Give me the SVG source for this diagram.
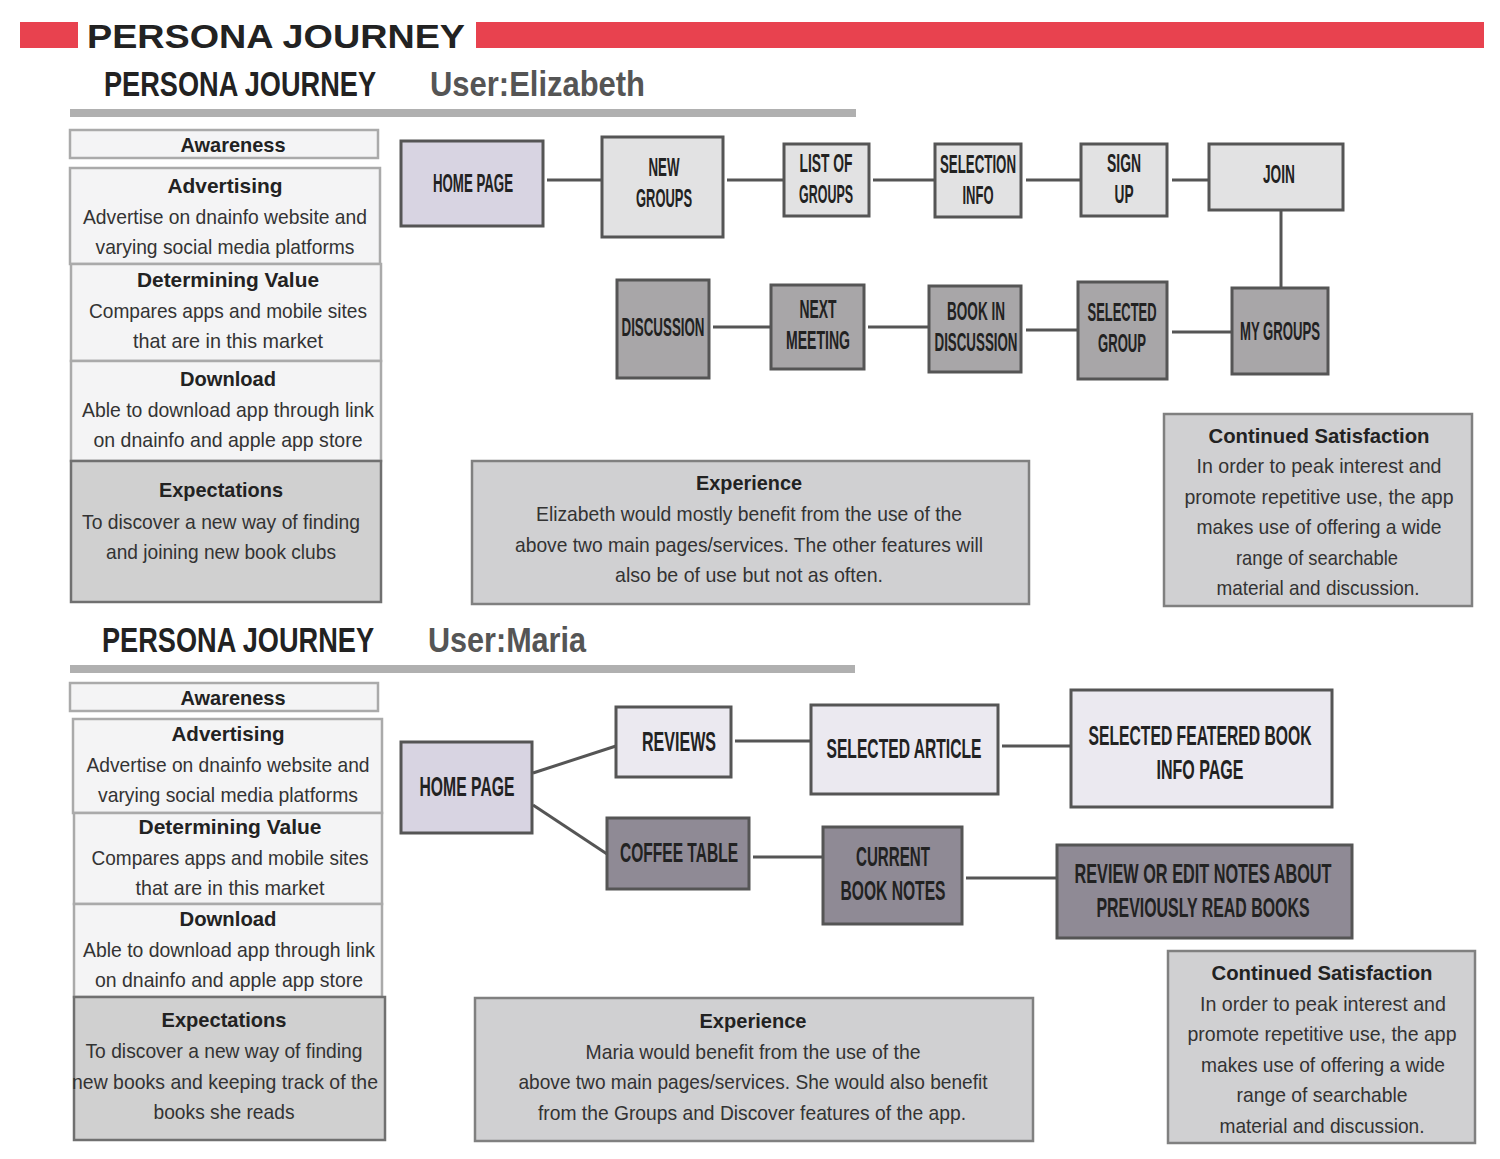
<svg xmlns="http://www.w3.org/2000/svg" width="1500" height="1159" viewBox="0 0 1500 1159">
<style>
text{font-family:"Liberation Sans",Arial,sans-serif;text-anchor:middle}
.nl{font-weight:bold;font-size:25px;fill:#222}
.nl2{font-weight:bold;font-size:28px;fill:#222}
.nl3{font-weight:bold;font-size:17px;fill:#222}
.bt{font-weight:bold;font-size:21px;fill:#222}
.bd{font-size:21px;fill:#333}
.st{font-weight:bold;font-size:29px;text-anchor:start}
.box{stroke:#555;stroke-width:3}
.lt{fill:#f4f4f5;stroke:#aaa;stroke-width:2.5}
.ex{fill:#d0d0d2;stroke:#808080;stroke-width:2.5}
.c{stroke:#555;stroke-width:3;fill:none}
</style>
<rect width="1500" height="1159" fill="#fff"/>
<g id="header">
<rect x="20" y="22" width="58" height="26" fill="#e8424f"/>
<rect x="476" y="22" width="1008" height="26" fill="#e8424f"/>
<text x="87" y="48" style="text-anchor:start;font-weight:bold;font-size:33px;fill:#222" textLength="378" lengthAdjust="spacingAndGlyphs">PERSONA JOURNEY</text>
</g>
<g id="title1">
<text class="st" transform="translate(104,96) scale(1,1.2)" x="0" y="0" fill="#222" textLength="272" lengthAdjust="spacingAndGlyphs">PERSONA JOURNEY</text>
<text class="st" transform="translate(430,96) scale(1,1.2)" x="0" y="0" fill="#555" textLength="215" lengthAdjust="spacingAndGlyphs">User:Elizabeth</text>
<rect x="70" y="109" width="786" height="8" fill="#b0b0b0"/>
</g>
<g id="left1">
<rect class="lt" x="70" y="130" width="308" height="28"/>
<text class="bt" x="233" y="152" textLength="105" lengthAdjust="spacingAndGlyphs">Awareness</text>
<rect class="lt" x="70" y="168" width="310" height="96"/>
<text class="bt" x="225" y="193" textLength="115" lengthAdjust="spacingAndGlyphs">Advertising</text>
<text class="bd" x="225" y="224" textLength="284" lengthAdjust="spacingAndGlyphs">Advertise on dnainfo website and</text>
<text class="bd" x="225" y="254" textLength="259" lengthAdjust="spacingAndGlyphs">varying social media platforms</text>
<rect class="lt" x="71" y="264" width="310" height="97"/>
<text class="bt" x="228" y="287" textLength="182" lengthAdjust="spacingAndGlyphs">Determining Value</text>
<text class="bd" x="228" y="318" textLength="278" lengthAdjust="spacingAndGlyphs">Compares apps and mobile sites</text>
<text class="bd" x="228" y="348" textLength="190" lengthAdjust="spacingAndGlyphs">that are in this market</text>
<rect class="lt" x="71" y="361" width="310" height="100"/>
<text class="bt" x="228" y="386" textLength="96" lengthAdjust="spacingAndGlyphs">Download</text>
<text class="bd" x="228" y="417" textLength="292" lengthAdjust="spacingAndGlyphs">Able to download app through link</text>
<text class="bd" x="228" y="447" textLength="269" lengthAdjust="spacingAndGlyphs">on dnainfo and apple app store</text>
<rect x="71" y="461" width="310" height="141" fill="#d0d0d0" stroke="#707070" stroke-width="2.5"/>
<text class="bt" x="221" y="497" textLength="124" lengthAdjust="spacingAndGlyphs">Expectations</text>
<text class="bd" x="221" y="529" textLength="278" lengthAdjust="spacingAndGlyphs">To discover a new way of finding</text>
<text class="bd" x="221" y="559" textLength="230" lengthAdjust="spacingAndGlyphs">and joining new book clubs</text>
</g>
<g id="connectors1">
<line class="c" x1="547" y1="180" x2="602" y2="180"/>
<line class="c" x1="727" y1="180" x2="784" y2="180"/>
<line class="c" x1="873" y1="180" x2="935" y2="180"/>
<line class="c" x1="1026" y1="180" x2="1081" y2="180"/>
<line class="c" x1="1172" y1="180" x2="1209" y2="180"/>
<line class="c" x1="1281" y1="210" x2="1281" y2="288"/>
<line class="c" x1="1172" y1="332" x2="1232" y2="332"/>
<line class="c" x1="1026" y1="330" x2="1078" y2="330"/>
<line class="c" x1="868" y1="327" x2="929" y2="327"/>
<line class="c" x1="713" y1="327" x2="771" y2="327"/>
</g>
<g id="n1-home"><rect class="box" x="401" y="141" width="142" height="85" fill="#d8d4e2"/><text class="nl" x="473" y="192" textLength="80" lengthAdjust="spacingAndGlyphs">HOME PAGE</text></g>
<g id="n1-newgroups"><rect class="box" x="602" y="137" width="121" height="100" fill="#e2e2e3"/><text class="nl" x="664" y="176" textLength="31" lengthAdjust="spacingAndGlyphs">NEW</text><text class="nl" x="664" y="207" textLength="56" lengthAdjust="spacingAndGlyphs">GROUPS</text></g>
<g id="n1-list"><rect class="box" x="784" y="144" width="85" height="72" fill="#e2e2e3"/><text class="nl" x="826" y="172" textLength="53" lengthAdjust="spacingAndGlyphs">LIST OF</text><text class="nl" x="826" y="203" textLength="54" lengthAdjust="spacingAndGlyphs">GROUPS</text></g>
<g id="n1-selection"><rect class="box" x="935" y="144" width="86" height="73" fill="#e2e2e3"/><text class="nl" x="978" y="173" textLength="76" lengthAdjust="spacingAndGlyphs">SELECTION</text><text class="nl" x="978" y="204" textLength="31" lengthAdjust="spacingAndGlyphs">INFO</text></g>
<g id="n1-signup"><rect class="box" x="1081" y="144" width="86" height="72" fill="#e2e2e3"/><text class="nl" x="1124" y="172" textLength="34" lengthAdjust="spacingAndGlyphs">SIGN</text><text class="nl" x="1124" y="203" textLength="19" lengthAdjust="spacingAndGlyphs">UP</text></g>
<g id="n1-join"><rect class="box" x="1209" y="144" width="134" height="66" fill="#e2e2e3"/><text class="nl" x="1279" y="183" textLength="32" lengthAdjust="spacingAndGlyphs">JOIN</text></g>
<g id="n1-mygroups"><rect class="box" x="1232" y="288" width="96" height="86" fill="#a8a6a8"/><text class="nl" x="1280" y="340" textLength="80" lengthAdjust="spacingAndGlyphs">MY GROUPS</text></g>
<g id="n1-selectedgroup"><rect class="box" x="1078" y="282" width="89" height="97" fill="#a8a6a8"/><text class="nl" x="1122" y="321" textLength="69" lengthAdjust="spacingAndGlyphs">SELECTED</text><text class="nl" x="1122" y="352" textLength="48" lengthAdjust="spacingAndGlyphs">GROUP</text></g>
<g id="n1-book"><rect class="box" x="929" y="286" width="92" height="86" fill="#a8a6a8"/><text class="nl" x="976" y="320" textLength="58" lengthAdjust="spacingAndGlyphs">BOOK IN</text><text class="nl" x="976" y="351" textLength="83" lengthAdjust="spacingAndGlyphs">DISCUSSION</text></g>
<g id="n1-next"><rect class="box" x="771" y="285" width="93" height="84" fill="#a8a6a8"/><text class="nl" x="818" y="318" textLength="37" lengthAdjust="spacingAndGlyphs">NEXT</text><text class="nl" x="818" y="349" textLength="64" lengthAdjust="spacingAndGlyphs">MEETING</text></g>
<g id="n1-discussion"><rect class="box" x="617" y="280" width="92" height="98" fill="#a8a6a8"/><text class="nl" x="663" y="336" textLength="83" lengthAdjust="spacingAndGlyphs">DISCUSSION</text></g>
<g id="exp1">
<rect class="ex" x="472" y="461" width="557" height="143"/>
<text class="bt" x="749" y="490" textLength="106" lengthAdjust="spacingAndGlyphs">Experience</text>
<text class="bd" x="749" y="521" textLength="426" lengthAdjust="spacingAndGlyphs">Elizabeth would mostly benefit from the use of the</text>
<text class="bd" x="749" y="552" textLength="468" lengthAdjust="spacingAndGlyphs">above two main pages/services. The other features will</text>
<text class="bd" x="749" y="582" textLength="268" lengthAdjust="spacingAndGlyphs">also be of use but not as often.</text>
</g>
<g id="cont1">
<rect class="ex" x="1164" y="414" width="308" height="192"/>
<text class="bt" x="1319" y="443" textLength="221" lengthAdjust="spacingAndGlyphs">Continued Satisfaction</text>
<text class="bd" x="1319" y="473" textLength="245" lengthAdjust="spacingAndGlyphs">In order to peak interest and</text>
<text class="bd" x="1319" y="504" textLength="269" lengthAdjust="spacingAndGlyphs">promote repetitive use, the app</text>
<text class="bd" x="1319" y="534" textLength="245" lengthAdjust="spacingAndGlyphs">makes use of offering a wide</text>
<text class="bd" x="1317" y="565" textLength="162" lengthAdjust="spacingAndGlyphs">range of searchable</text>
<text class="bd" x="1318" y="595" textLength="203" lengthAdjust="spacingAndGlyphs">material and discussion.</text>
</g>
<g id="title2">
<text class="st" transform="translate(102,652) scale(1,1.2)" x="0" y="0" fill="#222" textLength="272" lengthAdjust="spacingAndGlyphs">PERSONA JOURNEY</text>
<text class="st" transform="translate(428,652) scale(1,1.2)" x="0" y="0" fill="#555" textLength="158" lengthAdjust="spacingAndGlyphs">User:Maria</text>
<rect x="70" y="665" width="785" height="8" fill="#b0b0b0"/>
</g>
<g id="left2">
<rect class="lt" x="70" y="683" width="308" height="28"/>
<text class="bt" x="233" y="705" textLength="105" lengthAdjust="spacingAndGlyphs">Awareness</text>
<rect class="lt" x="73" y="719" width="309" height="94"/>
<text class="bt" x="228" y="741" textLength="113" lengthAdjust="spacingAndGlyphs">Advertising</text>
<text class="bd" x="228" y="772" textLength="283" lengthAdjust="spacingAndGlyphs">Advertise on dnainfo website and</text>
<text class="bd" x="228" y="802" textLength="260" lengthAdjust="spacingAndGlyphs">varying social media platforms</text>
<rect class="lt" x="74" y="813" width="308" height="91"/>
<text class="bt" x="230" y="834" textLength="183" lengthAdjust="spacingAndGlyphs">Determining Value</text>
<text class="bd" x="230" y="865" textLength="277" lengthAdjust="spacingAndGlyphs">Compares apps and mobile sites</text>
<text class="bd" x="230" y="895" textLength="189" lengthAdjust="spacingAndGlyphs">that are in this market</text>
<rect class="lt" x="74" y="904" width="308" height="93"/>
<text class="bt" x="228" y="926" textLength="97" lengthAdjust="spacingAndGlyphs">Download</text>
<text class="bd" x="229" y="957" textLength="292" lengthAdjust="spacingAndGlyphs">Able to download app through link</text>
<text class="bd" x="229" y="987" textLength="268" lengthAdjust="spacingAndGlyphs">on dnainfo and apple app store</text>
<rect x="74" y="997" width="311" height="143" fill="#d0d0d0" stroke="#707070" stroke-width="2.5"/>
<text class="bt" x="224" y="1027" textLength="125" lengthAdjust="spacingAndGlyphs">Expectations</text>
<text class="bd" x="224" y="1058" textLength="277" lengthAdjust="spacingAndGlyphs">To discover a new way of finding</text>
<text class="bd" x="225" y="1089" textLength="306" lengthAdjust="spacingAndGlyphs">new books and keeping track of the</text>
<text class="bd" x="224" y="1119" textLength="141" lengthAdjust="spacingAndGlyphs">books she reads</text>
</g>
<g id="connectors2">
<line class="c" x1="533" y1="773" x2="616" y2="746"/>
<line class="c" x1="533" y1="805" x2="607" y2="854"/>
<line class="c" x1="735" y1="741" x2="811" y2="741"/>
<line class="c" x1="1002" y1="746" x2="1071" y2="746"/>
<line class="c" x1="753" y1="857" x2="823" y2="857"/>
<line class="c" x1="966" y1="878" x2="1057" y2="878"/>
</g>
<g id="n2-home"><rect class="box" x="401" y="742" width="131" height="91" fill="#d8d4e2"/><text class="nl2" x="467" y="796" textLength="95" lengthAdjust="spacingAndGlyphs">HOME PAGE</text></g>
<g id="n2-reviews"><rect class="box" x="616" y="707" width="115" height="70" fill="#ebe9f0"/><text class="nl2" x="679" y="751" textLength="74" lengthAdjust="spacingAndGlyphs">REVIEWS</text></g>
<g id="n2-article"><rect class="box" x="811" y="705" width="187" height="89" fill="#ebe9f0"/><text class="nl2" x="904" y="758" textLength="155" lengthAdjust="spacingAndGlyphs">SELECTED ARTICLE</text></g>
<g id="n2-featured"><rect class="box" x="1071" y="690" width="261" height="117" fill="#ebe9f0"/><text class="nl3" transform="translate(1200,745) scale(1,1.65)" x="0" y="0" textLength="223" lengthAdjust="spacingAndGlyphs">SELECTED FEATERED BOOK</text><text class="nl2" x="1200" y="779" textLength="87" lengthAdjust="spacingAndGlyphs">INFO PAGE</text></g>
<g id="n2-coffee"><rect class="box" x="607" y="818" width="142" height="71" fill="#8f8a95"/><text class="nl2" x="679" y="862" textLength="118" lengthAdjust="spacingAndGlyphs">COFFEE TABLE</text></g>
<g id="n2-current"><rect class="box" x="823" y="827" width="139" height="97" fill="#8f8a95"/><text class="nl2" x="893" y="866" textLength="74" lengthAdjust="spacingAndGlyphs">CURRENT</text><text class="nl2" x="893" y="900" textLength="105" lengthAdjust="spacingAndGlyphs">BOOK NOTES</text></g>
<g id="n2-review"><rect class="box" x="1057" y="845" width="295" height="93" fill="#8f8a95"/><text class="nl3" transform="translate(1203,883) scale(1,1.65)" x="0" y="0" textLength="257" lengthAdjust="spacingAndGlyphs">REVIEW OR EDIT NOTES ABOUT</text><text class="nl3" transform="translate(1203,917) scale(1,1.65)" x="0" y="0" textLength="213" lengthAdjust="spacingAndGlyphs">PREVIOUSLY READ BOOKS</text></g>
<g id="exp2">
<rect class="ex" x="475" y="998" width="558" height="143"/>
<text class="bt" x="753" y="1028" textLength="107" lengthAdjust="spacingAndGlyphs">Experience</text>
<text class="bd" x="753" y="1059" textLength="335" lengthAdjust="spacingAndGlyphs">Maria would benefit from the use of the</text>
<text class="bd" x="753" y="1089" textLength="469" lengthAdjust="spacingAndGlyphs">above two main pages/services. She would also benefit</text>
<text class="bd" x="752" y="1120" textLength="428" lengthAdjust="spacingAndGlyphs">from the Groups and Discover features of the app.</text>
</g>
<g id="cont2">
<rect class="ex" x="1168" y="951" width="307" height="192"/>
<text class="bt" x="1322" y="980" textLength="221" lengthAdjust="spacingAndGlyphs">Continued Satisfaction</text>
<text class="bd" x="1323" y="1011" textLength="246" lengthAdjust="spacingAndGlyphs">In order to peak interest and</text>
<text class="bd" x="1322" y="1041" textLength="269" lengthAdjust="spacingAndGlyphs">promote repetitive use, the app</text>
<text class="bd" x="1323" y="1072" textLength="244" lengthAdjust="spacingAndGlyphs">makes use of offering a wide</text>
<text class="bd" x="1322" y="1102" textLength="171" lengthAdjust="spacingAndGlyphs">range of searchable</text>
<text class="bd" x="1322" y="1133" textLength="205" lengthAdjust="spacingAndGlyphs">material and discussion.</text>
</g>
</svg>
